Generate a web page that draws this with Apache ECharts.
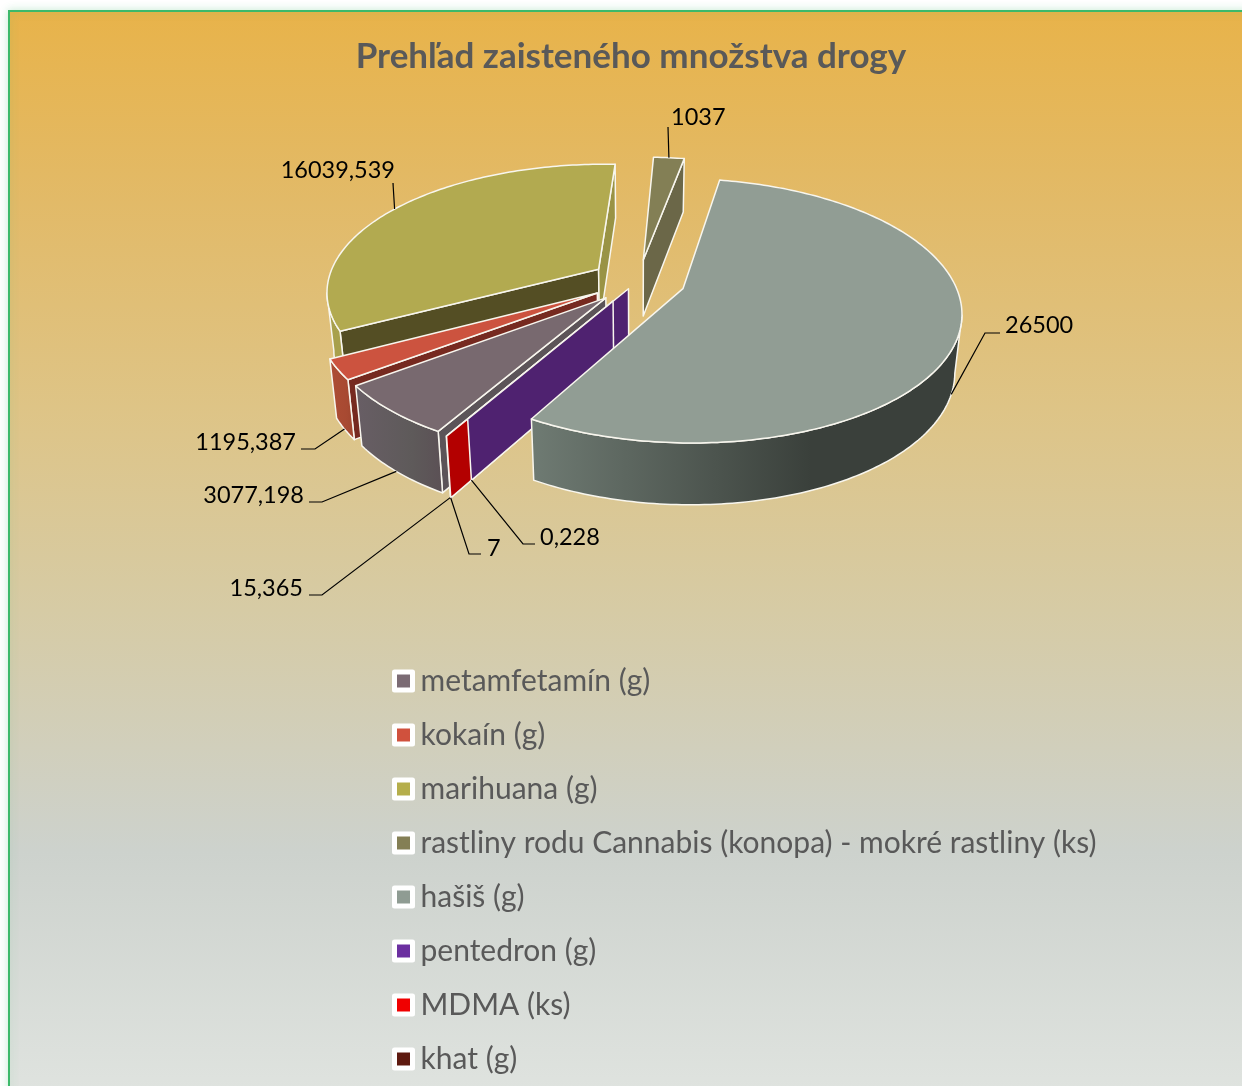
<!DOCTYPE html>
<html>
<head>
<meta charset="utf-8">
<style>html,body{margin:0;padding:0;background:#fff}#chart{width:1242px;height:1086px}</style>
<script src="https://cdn.jsdelivr.net/npm/echarts@6/dist/echarts.min.js"></script>
</head>
<body>
<div id="chart"></div>
<script>
// data
var categories = ['metamfetamín (g)', 'kokaín (g)', 'marihuana (g)', 'rastliny rodu Cannabis (konopa) - mokré rastliny (ks)', 'hašiš (g)', 'pentedron (g)', 'MDMA (ks)', 'khat (g)'];
var values = [3077.198, 1195.387, 16039.539, 1037, 26500, 0.228, 7, 15.365];

// slice styling, same order as categories
var legendColors = ['#7b6b74', '#d0513d', '#b5ae4b', '#847f55', '#8f9c93', '#6b2fa0', '#f00000', '#5e1a10'];
var topColors = ['#78696f', '#cc533f', '#b2aa50', '#837f55', '#919d94', '#4f2270', '#b30000', '#6b2018'];
var startWall = ['#5c5458', '#762a20', '#544e24', '#6b6748', '#6b7570', '#4f2270', '#b30000', '#6b2018'];
var endWall = ['#5c5458', '#a84a32', '#999345', '#6b6748', '#6b7570', '#4f2270', '#b30000', '#6b2018'];
var outerStops = [
    ['#685e65', '#5e5a5a', '#5b5055'],
    ['#ad4d34', '#a84a32', '#9e452e'],
    ['#a8a04c', '#a8a04c', '#a8a04c'],
    ['#6b6748', '#6b6748', '#6b6748'],
    ['#6f7b73', '#3a403b', '#3a403b'],
    ['#4f2270', '#4f2270', '#4f2270'],
    ['#b30000', '#b30000', '#b30000'],
    ['#6b2018', '#6b2018', '#6b2018']
];
var explode = [0.175, 0.175, 0.175, 0.175, 0.175, 0.07, 0.18, 0.18];
var paintOrder = [4, 3, 1, 2, 8, 7, 6, 5];

// label layout: text x, text y, align, stub start x, stub end x, stub y, anchor on top edge
var labelLayout = [
    [304, 495, 'right', 309, 322, 502, false],
    [296, 442, 'right', 301, 315, 449, false],
    [395, 170, 'right', 393, 393, 183, true],
    [671, 117, 'left', 668, 668, 127, true],
    [1005, 325, 'left', 1000, 985, 333, false],
    [540, 537, 'left', 535, 523, 544, false],
    [487, 548, 'left', 481, 469, 554, false],
    [303, 588, 'right', 309, 322, 595, false]
];

// pie projection
var firstAngle = 210;
var cx = 638, cy = 281;
var radius = 271, flat = 126;
var persp = 0.165;
var depth = 57;
var bottomShrink = 0.978;
var edgeColor = '#f8f6ee';

var total = values.reduce(function (a, b) { return a + b; }, 0);
var starts = [];
var run = firstAngle;
values.forEach(function (v) {
    starts.push(run);
    run += v / total * 360;
});

function project(X, Y, down) {
    var s = 1 / (1 - persp * Y);
    var x = radius * X * s;
    return [cx + (down ? x * bottomShrink : x), cy + flat * Y * s + (down ? depth * (0.6 + 0.4 * s) : 0)];
}

function sliceGeom(i) {
    var a0 = starts[i];
    var a1 = a0 + values[i] / total * 360;
    var mid = (a0 + a1) / 2 * Math.PI / 180;
    var ex = explode[i] * Math.sin(mid);
    var ey = -explode[i] * Math.cos(mid);
    return {
        a0: a0,
        a1: a1,
        apex: function (down) { return project(ex, ey, down); },
        rim: function (deg, down) {
            var t = deg * Math.PI / 180;
            return project(ex + Math.sin(t), ey - Math.cos(t), down);
        }
    };
}

function wallVisible(apex, outer, other) {
    var dx = outer[0] - apex[0], dy = outer[1] - apex[1];
    var side = dx * (other[1] - apex[1]) - dy * (other[0] - apex[0]);
    return side * dx * -1 > 0;
}

function poly(points, fill) {
    return {
        type: 'polygon',
        shape: { points: points },
        style: { fill: fill, stroke: edgeColor, lineWidth: 1.5, lineJoin: 'round' }
    };
}

function line(points) {
    return {
        type: 'polyline',
        shape: { points: points },
        style: { fill: 'none', stroke: '#000', lineWidth: 1.2 }
    };
}

function renderSlice(i, value) {
    var g = sliceGeom(i);
    var kids = [];
    var apex = g.apex(false), apexLow = g.apex(true);

    // radial walls
    var p0 = g.rim(g.a0, false), p1 = g.rim(g.a1, false);
    if (wallVisible(apex, p0, g.rim(g.a0 + 1, false))) {
        kids.push(poly([apex, p0, g.rim(g.a0, true), apexLow], startWall[i]));
    }
    if (wallVisible(apex, p1, g.rim(g.a1 - 1, false))) {
        kids.push(poly([apex, p1, g.rim(g.a1, true), apexLow], endWall[i]));
    }

    // arc samples
    var angles = [];
    for (var a = g.a0; a < g.a1; a += 1) angles.push(a);
    angles.push(g.a1);
    var arcTop = angles.map(function (d) { return g.rim(d, false); });

    // outer wall, only where the rim runs right to left on screen
    var front = angles.filter(function (d) {
        var prev = g.rim(d - 0.5, false), next = g.rim(d + 0.5, false);
        return next[0] < prev[0];
    });
    if (front.length > 1 && g.a1 - g.a0 > 1) {
        var upper = front.map(function (d) { return g.rim(d, false); });
        var lower = front.map(function (d) { return g.rim(d, true); }).reverse();
        kids.push(poly(upper.concat(lower), new echarts.graphic.LinearGradient(0, 0, 1, 0, [
            { offset: 0, color: outerStops[i][0] },
            { offset: 0.65, color: outerStops[i][1] },
            { offset: 1, color: outerStops[i][2] }
        ])));
    }

    // top face
    if (g.a1 - g.a0 > 1) {
        kids.push(poly([apex].concat(arcTop), topColors[i]));
    }

    // seam of the MDMA wall shows on the pentedron wall
    if (i === 5) {
        var m = sliceGeom(6);
        kids.push({
            type: 'line',
            shape: { x1: m.apex(false)[0], y1: m.apex(false)[1], x2: m.apex(true)[0], y2: m.apex(true)[1] },
            style: { stroke: edgeColor, lineWidth: 1.5 }
        });
    }

    // leader + value label
    var lay = labelLayout[i];
    var midDeg = (g.a0 + g.a1) / 2;
    var anchor = g.rim(midDeg, !lay[6]);
    kids.push(line([[lay[3], lay[5]], [lay[4], lay[5]], anchor]));
    kids.push({
        type: 'text',
        style: {
            text: String(value).replace('.', ','),
            x: lay[0],
            y: lay[1],
            textAlign: lay[2],
            textVerticalAlign: 'middle',
            fontSize: 23.5,
            fontFamily: 'Lato',
            fill: '#000'
        }
    });
    return { type: 'group', children: kids };
}

var chart = echarts.init(document.getElementById('chart'), null, { renderer: 'canvas' });

var series = categories.map(function (name, i) {
    return {
        name: name,
        type: 'custom',
        coordinateSystem: 'none',
        z: 2 + paintOrder[i],
        itemStyle: { color: legendColors[i] },
        data: [[values[i]]],
        renderItem: function (params, api) {
            return renderSlice(i, api.value(0));
        }
    };
});

chart.setOption({
    animation: false,
    backgroundColor: '#ffffff',
    title: {
        text: 'Prehľad zaisteného množstva drogy',
        left: 626,
        top: 34,
        textAlign: 'center',
        textStyle: { fontFamily: 'Lato', fontWeight: 'bold', fontSize: 35, color: '#595959' }
    },
    legend: {
        orient: 'vertical',
        left: 392,
        top: 666,
        height: 420,
        padding: 0,
        itemWidth: 18,
        itemHeight: 18,
        itemGap: 24,
        icon: 'rect',
        selectedMode: false,
        textStyle: { fontFamily: 'Lato', fontSize: 30, color: '#595959', padding: [0, 0, 0, 3] },
        data: categories.map(function (name, i) {
            return {
                name: name,
                itemStyle: { color: legendColors[i], borderColor: '#ffffff', borderWidth: 5, borderJoin: 'round' }
            };
        })
    },
    graphic: [{
        type: 'rect',
        z: -10,
        silent: true,
        shape: { x: 9, y: 11, width: 1300, height: 1200 },
        style: {
            stroke: '#3cb96a',
            lineWidth: 2,
            shadowBlur: 8,
            shadowColor: 'rgba(60,185,106,0.25)',
            fill: new echarts.graphic.LinearGradient(0, 0, 0, 1, [
                { offset: 0, color: '#e8b34a' },
                { offset: 0.16, color: '#e2ba68' },
                { offset: 0.33, color: '#dec486' },
                { offset: 0.5, color: '#d6cba5' },
                { offset: 0.7, color: '#cdd2cd' },
                { offset: 0.9, color: '#dfe3df' },
                { offset: 1, color: '#e4e8e4' }
            ])
        }
    }],
    series: series
});
</script>
</body>
</html>
